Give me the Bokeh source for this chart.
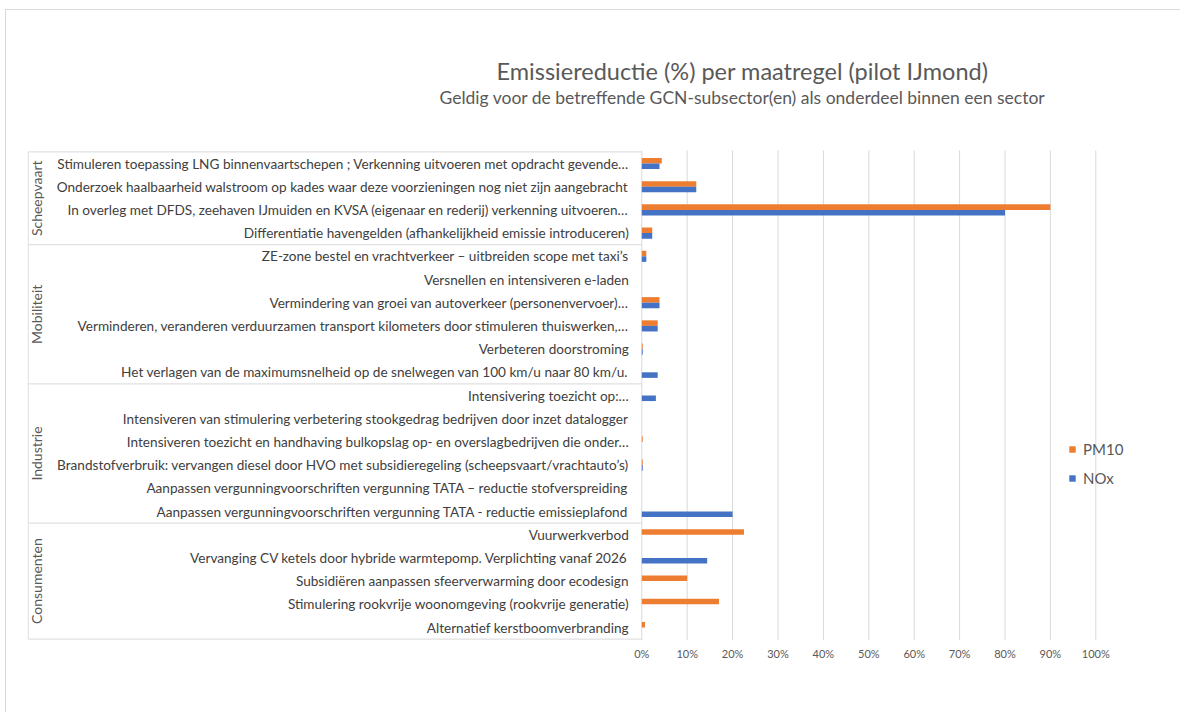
import math
from bokeh.plotting import figure
from bokeh.models import ColumnDataSource, Range1d, FixedTicker
from bokeh.transform import dodge
from bokeh.core.properties import value
from bokeh.embed import file_html
from bokeh.resources import INLINE

# ---------------- data ----------------
sectors = ["Scheepvaart", "Mobiliteit", "Industrie", "Consumenten"]
sector_sizes = [4, 6, 6, 5]

measures = [
    "Stimuleren toepassing LNG binnenvaartschepen ; Verkenning uitvoeren met opdracht gevende…",
    "Onderzoek haalbaarheid walstroom op kades waar deze voorzieningen nog niet zijn aangebracht",
    "In overleg met DFDS, zeehaven IJmuiden en KVSA (eigenaar en rederij) verkenning uitvoeren…",
    "Differentiatie havengelden (afhankelijkheid emissie introduceren)",
    "ZE-zone bestel en vrachtverkeer – uitbreiden scope met taxi’s",
    "Versnellen en intensiveren e-laden",
    "Vermindering van groei van autoverkeer (personenvervoer)…",
    "Verminderen, veranderen verduurzamen transport kilometers door stimuleren thuiswerken,…",
    "Verbeteren doorstroming",
    "Het verlagen van de maximumsnelheid op de snelwegen van 100 km/u naar 80 km/u.",
    "Intensivering toezicht op:…",
    "Intensiveren van stimulering verbetering stookgedrag bedrijven door inzet datalogger",
    "Intensiveren toezicht en handhaving bulkopslag op- en overslagbedrijven die onder…",
    "Brandstofverbruik: vervangen diesel door HVO met subsidieregeling (scheepsvaart/vrachtauto’s)",
    "Aanpassen vergunningvoorschriften vergunning TATA – reductie stofverspreiding",
    "Aanpassen vergunningvoorschriften vergunning TATA - reductie emissieplafond",
    "Vuurwerkverbod",
    "Vervanging CV ketels door hybride warmtepomp. Verplichting vanaf 2026",
    "Subsidiëren aanpassen sfeerverwarming door ecodesign",
    "Stimulering rookvrije woonomgeving (rookvrije generatie)",
    "Alternatief kerstboomverbranding",
]

pm10 = [4.4, 12.0, 90.0, 2.3, 1.0, 0.0, 3.9, 3.5, 0.2, 0.0, 0.0, 0.0, 0.2, 0.2, 0.0, 0.0,
        22.5, 0.0, 10.0, 17.0, 0.7]
nox = [3.9, 12.0, 80.0, 2.3, 1.0, 0.0, 3.9, 3.5, 0.2, 3.5, 3.1, 0.0, 0.0, 0.2, 0.0, 20.0,
       0.0, 14.4, 0.0, 0.0, 0.0]

x_ticks = [0, 10, 20, 30, 40, 50, 60, 70, 80, 90, 100]
x_tick_labels = [f"{t}%" for t in x_ticks]

title_text = "Emissiereductie (%) per maatregel (pilot IJmond)"
subtitle_text = "Geldig voor de betreffende GCN-subsector(en) als onderdeel binnen een sector"

# ---------------- layout constants (page pixels) ----------------
W, H = 1181, 713
OX, OY = 6, 10                 # page offset of the figure (margin + border)
FL, FR, FT, FB = 27, 1140, 30, 640    # frame edges on the page
CHART_TOP = 150                       # top of the bar area on the page
ZERO_PX, HUNDRED_PX = 641.3, 1095.3
px_per_unit = (HUNDRED_PX - ZERO_PX) / 100.0
x_start = (FL - ZERO_PX) / px_per_unit
x_end = (FR - ZERO_PX) / px_per_unit

n = len(measures)
row_px = 23.2
pad = ((FB - CHART_TOP) - n * row_px) / 2 / row_px
y_bottom = n - 0.5 + pad
y_chart_top = -0.5 - pad
y_top = y_chart_top - (CHART_TOP - FT) / row_px

def page_y_to_data(py):
    return y_chart_top - (CHART_TOP - py) / row_px

FONT = "Lato"
GREY = "#595959"
DARK = "#404040"
LINE = "#d9d9d9"

p = figure(width=W - OX, height=H - OY, output_backend="svg", toolbar_location=None,
           x_range=Range1d(x_start, x_end),
           y_range=Range1d(y_bottom, y_top),
           y_axis_location=None, title=None,
           min_border_left=FL - OX, min_border_right=W - FR,
           min_border_top=FT - OY, min_border_bottom=H - FB)
p.styles = {"margin-left": f"{OX - 1}px", "margin-top": f"{OY - 1}px",
            "border-top": f"1px solid {LINE}", "border-left": f"1px solid {LINE}"}
p.outline_line_color = None
p.background_fill_color = "white"
p.border_fill_color = "white"

ticker = FixedTicker(ticks=x_ticks)
p.xaxis.ticker = ticker
p.xaxis.major_label_overrides = dict(zip(x_ticks, x_tick_labels))
p.xaxis.axis_line_color = None
p.xaxis.major_tick_line_color = None
p.xaxis.minor_tick_line_color = None
p.xaxis.major_label_text_font = FONT
p.xaxis.major_label_text_font_size = "11px"
p.xaxis.major_label_text_color = GREY
p.xaxis.major_label_standoff = 0
p.xgrid.visible = False
p.ygrid.visible = False

# vertical gridlines, only over the bar area
p.segment(x0=x_ticks, x1=x_ticks, y0=[y_chart_top] * len(x_ticks), y1=[y_bottom] * len(x_ticks),
          line_color=LINE, line_width=1)

src = ColumnDataSource(dict(y=list(range(n)), pm10=pm10, nox=nox, label=measures))

# label box lines
bounds = [-0.5]
for s in sector_sizes:
    bounds.append(bounds[-1] + s)
p.segment(x0=[x_start + 0.15] * len(bounds), x1=[0] * len(bounds), y0=bounds, y1=bounds,
          line_color=LINE, line_width=1)
p.segment(x0=[x_start + 0.15], x1=[x_start + 0.15], y0=[bounds[0]], y1=[bounds[-1]],
          line_color=LINE, line_width=1)

bh = 0.24
p.hbar(y=dodge("y", -bh / 2), right="pm10", left=0, height=bh, source=src,
       fill_color="#ED7D31", line_color=None, legend_label="PM10")
p.hbar(y=dodge("y", bh / 2), right="nox", left=0, height=bh, source=src,
       fill_color="#4472C4", line_color=None, legend_label="NOx")

# item labels
p.text(x=0, y="y", text="label", source=src, x_offset=-13, text_align="right",
       text_baseline="middle", text_font=value(FONT), text_font_size="13.6px",
       text_color=DARK)

# sector labels
centers = [(bounds[i] + bounds[i + 1]) / 2 for i in range(len(sectors))]
p.text(x=[x_start] * len(sectors), y=centers, text=sectors, x_offset=9,
       angle=math.pi / 2, text_align="center", text_baseline="middle",
       text_font=value(FONT), text_font_size="14px", text_color=GREY)

# titles
title_x = (742 - ZERO_PX) / px_per_unit
p.text(x=[title_x], y=[page_y_to_data(70)], text=[title_text], text_align="center",
       text_baseline="middle", text_font=value(FONT), text_font_size="23.5px", text_color=GREY)
p.text(x=[title_x], y=[page_y_to_data(97)], text=[subtitle_text], text_align="center",
       text_baseline="middle", text_font=value(FONT), text_font_size="17.5px", text_color=GREY)

# legend
p.legend.location = (1068 - FL, FB - 488)
p.legend.padding = 0
p.legend.margin = 0
p.legend.border_line_color = None
p.legend.background_fill_alpha = 0
p.legend.glyph_width = 8
p.legend.glyph_height = 8
p.legend.label_standoff = 7
p.legend.label_height = 20
p.legend.spacing = 9
p.legend.label_text_font = FONT
p.legend.label_text_font_size = "15px"
p.legend.label_text_color = GREY

open("out.html", "w").write(file_html(p, INLINE))
